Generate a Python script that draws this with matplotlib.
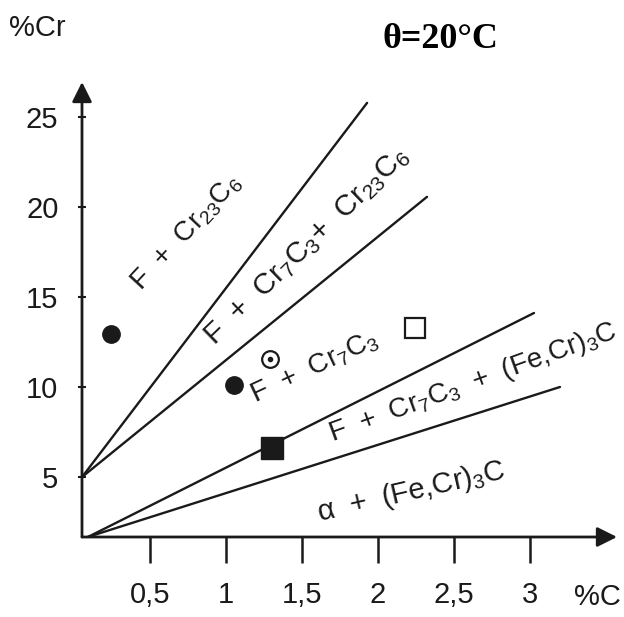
import matplotlib
matplotlib.use("Agg")
import matplotlib.pyplot as plt

plt.rcParams['font.family'] = ['Liberation Sans', 'DejaVu Sans']
plt.rcParams['mathtext.default'] = 'regular'

# ---- data ----
x_ticks = [0.5, 1.0, 1.5, 2.0, 2.5, 3.0]
x_tick_labels = ['0,5', '1', '1,5', '2', '2,5', '3']
y_ticks = [5, 10, 15, 20, 25]
y_tick_labels = ['5', '10', '15', '20', '25']

# phase boundary lines
line1_x = [0.053, 1.928]
line1_y = [5.0, 25.78]
line2_x = [0.053, 2.322]
line2_y = [5.0, 20.56]
line3_x = [0.092, 3.026]
line3_y = [1.67, 14.11]
line4_x = [0.092, 3.197]
line4_y = [1.67, 10.0]

# sample points
filled_circle_x = [0.243, 1.053]
filled_circle_y = [12.94, 10.1]
filled_square_x = [1.303]
filled_square_y = [6.61]
dot_circle_x = [1.29]
dot_circle_y = [11.56]
open_square_x = [2.243]
open_square_y = [13.28]

# region labels
region_texts = [r'F  +  Cr$_{23}$C$_6$',
                r'F  +  Cr$_7$C$_3$+  Cr$_{23}$C$_6$',
                r'F  +  Cr$_7$C$_3$',
                r'F  +  Cr$_7$C$_3$  +  (Fe,Cr)$_3$C',
                r'α  +  (Fe,Cr)$_3$C']
region_x = [0.743, 1.53, 1.579, 1.70, 2.22]
region_y = [18.6, 17.8, 11.06, 7.0, 4.17]
region_rot = [47, 44, 25, 20, 13]
region_size = [20, 21.5, 20, 20, 21]
region_ha = ['center', 'center', 'center', 'left', 'center']
region_va = ['center', 'center', 'center', 'baseline', 'center']

# ---- figure ----
W, H = 624, 617
fig = plt.figure(figsize=(W / 100, H / 100), dpi=100)
fig.patch.set_facecolor('white')

ax = fig.add_axes([82 / W, (H - 537) / H, (617 - 82) / W, (537 - 82) / H])
ax.set_xlim(0.0526, 3.572)
ax.set_ylim(1.667, 26.94)
for s in ax.spines.values():
    s.set_visible(False)

ink = '#1a1a1a'
# axes with arrows
for tip in [(1, 0), (0, 1)]:
    ax.annotate('', xy=tip, xytext=(0, 0), xycoords='axes fraction',
                arrowprops=dict(arrowstyle='-|>,head_length=0.6,head_width=0.3',
                                lw=2.0, color=ink, mutation_scale=20,
                                shrinkA=0, shrinkB=0), annotation_clip=False)

ax.set_xticks(x_ticks)
ax.set_xticklabels(x_tick_labels)
ax.set_yticks(y_ticks)
ax.set_yticklabels(y_tick_labels)
ax.tick_params(axis='x', direction='out', length=19, width=1.8, color=ink,
               pad=13, labelsize=21, labelcolor=ink)
ax.tick_params(axis='y', direction='inout', length=6, width=1.5, color=ink,
               pad=14, labelsize=21, labelcolor=ink)

lw = 1.7
for xs, ys in [(line1_x, line1_y), (line2_x, line2_y),
               (line3_x, line3_y), (line4_x, line4_y)]:
    ax.plot(xs, ys, color=ink, lw=lw, solid_capstyle='round', clip_on=False)

ax.plot(filled_circle_x, filled_circle_y, 'o', color=ink, ms=12.5, ls='none')
ax.plot(filled_square_x, filled_square_y, 's', color=ink, ms=16, ls='none')
ax.plot(dot_circle_x, dot_circle_y, 'o', mfc='white', mec=ink, mew=1.6,
        ms=12, ls='none')
ax.plot(dot_circle_x, dot_circle_y, 'o', color=ink, ms=3, ls='none')
ax.plot(open_square_x, open_square_y, 's', mfc='white', mec=ink, mew=1.6,
        ms=15, ls='none')

for t, x, y, r, fs, ha, va in zip(region_texts, region_x, region_y, region_rot,
                                  region_size, region_ha, region_va):
    ax.text(x, y, t, rotation=r, rotation_mode='anchor', ha=ha, va=va,
            fontsize=fs, color=ink, clip_on=False)

fig.text(37 / W, 1 - 28 / H, '%Cr', ha='center', va='center', fontsize=21,
         color=ink)
fig.text(597 / W, 1 - 597 / H, '%C', ha='center', va='center', fontsize=21,
         color=ink)
fig.text(440 / W, 1 - 40 / H, 'θ=20°C', ha='center', va='center',
         fontsize=26, fontweight='bold', family='Liberation Serif', color='black')

fig.savefig('out.png', dpi=100, facecolor='white')
